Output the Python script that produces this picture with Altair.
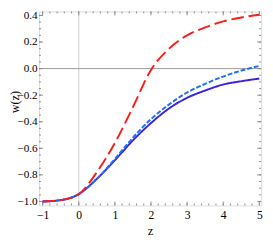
import altair as alt
import pandas as pd

# ---- data ----
z_vals = [-1.0, -0.5, 0.0, 0.5, 1.0, 1.5, 2.0, 2.5, 3.0, 3.5, 4.0, 4.5, 5.0]
w_solid = [-1.0, -0.99, -0.945, -0.83, -0.69, -0.54, -0.41, -0.30, -0.22, -0.165, -0.12, -0.095, -0.075]
w_dashed = [-1.0, -0.99, -0.945, -0.83, -0.68, -0.52, -0.38, -0.27, -0.18, -0.115, -0.06, -0.015, 0.02]
w_longdash = [-1.0, -0.99, -0.945, -0.78, -0.56, -0.29, -0.01, 0.15, 0.25, 0.31, 0.355, 0.385, 0.405]

series_names = ["solid", "dashed", "longdash"]
series_colors = ["#3b22e6", "#1f6ff2", "#ff1a1a"]
series_dash = [[1, 0], [5, 2], [13, 5]]

x_major = [-1, 0, 1, 2, 3, 4, 5]
y_major = [-1.0, -0.8, -0.6, -0.4, -0.2, 0.0, 0.2, 0.4]
x_minor = [round(-1 + 0.2 * i, 2) for i in range(31)]
y_minor = [round(-1 + 0.05 * i, 2) for i in range(29)]

rows = []
for name, ws in zip(series_names, [w_solid, w_dashed, w_longdash]):
    for zv, wv in zip(z_vals, ws):
        rows.append({"z": zv, "w": wv, "series": name})
df = pd.DataFrame(rows)

W, H = 229, 200
FONT = "Liberation Serif"
GRAY = "#8a8a8a"

xscale = alt.Scale(domain=[-1.1, 5.05], nice=False, zero=False)
yscale = alt.Scale(domain=[-1.03, 0.43], nice=False, zero=False)

xaxis = alt.Axis(values=x_major, ticks=False, grid=False, domain=False,
                 labelFont=FONT, labelFontSize=12, labelColor="black",
                 labelPadding=4, title="z", titleFont=FONT,
                 titleFontSize=13, titleFontWeight="normal",
                 titleColor="black", titlePadding=5)
yaxis = alt.Axis(values=y_major, format=".1f", ticks=False, grid=False,
                 domain=False, labelFont=FONT, labelFontSize=11.5,
                 labelColor="black", labelPadding=2, title="w(z)",
                 titleFont=FONT, titleFontSize=12.5,
                 titleFontWeight="normal", titleColor="black",
                 titleX=-18, titleY=93)

X = lambda: alt.X("z:Q", scale=xscale, axis=xaxis)
Y = lambda: alt.Y("w:Q", scale=yscale, axis=yaxis)

lines = alt.Chart(df).mark_line(interpolate="monotone", strokeWidth=2).encode(
    x=X(), y=Y(),
    color=alt.Color("series:N", scale=alt.Scale(domain=series_names, range=series_colors), legend=None),
    strokeDash=alt.StrokeDash("series:N", scale=alt.Scale(domain=series_names, range=series_dash), legend=None),
    order=alt.Order("z:Q"),
)

vgrid = alt.Chart(pd.DataFrame({"z": [0]})).mark_rule(color="#cccccc", strokeWidth=1).encode(x=X())
hgrid = alt.Chart(pd.DataFrame({"w": [0.0]})).mark_rule(color="#999999", strokeWidth=1).encode(y=Y())

def xticks(vals, length):
    d = pd.DataFrame({"z": vals})
    b = alt.Chart(d).mark_rule(color=GRAY, strokeWidth=1).encode(
        x=X(), y=alt.value(H), y2=alt.value(H - length))
    t = alt.Chart(d).mark_rule(color=GRAY, strokeWidth=1).encode(
        x=X(), y=alt.value(0), y2=alt.value(length))
    return [b, t]

def yticks(vals, length):
    d = pd.DataFrame({"w": vals})
    l = alt.Chart(d).mark_rule(color=GRAY, strokeWidth=1).encode(
        y=Y(), x=alt.value(0), x2=alt.value(length))
    r = alt.Chart(d).mark_rule(color=GRAY, strokeWidth=1).encode(
        y=Y(), x=alt.value(W), x2=alt.value(W - length))
    return [l, r]

layers = [vgrid, hgrid] + xticks(x_minor, 2) + xticks(x_major, 4) + yticks(y_minor, 2) + yticks(y_major, 4) + [lines]

chart = alt.layer(*layers).properties(
    width=W, height=H,
    autosize=alt.AutoSizeParams(type="none"),
    padding={"left": 32, "top": 0, "right": 4, "bottom": 30},
).configure_view(stroke=GRAY, strokeWidth=1).configure(background="white")

chart.save("out.html", embed_options={"renderer": "svg", "actions": False})
